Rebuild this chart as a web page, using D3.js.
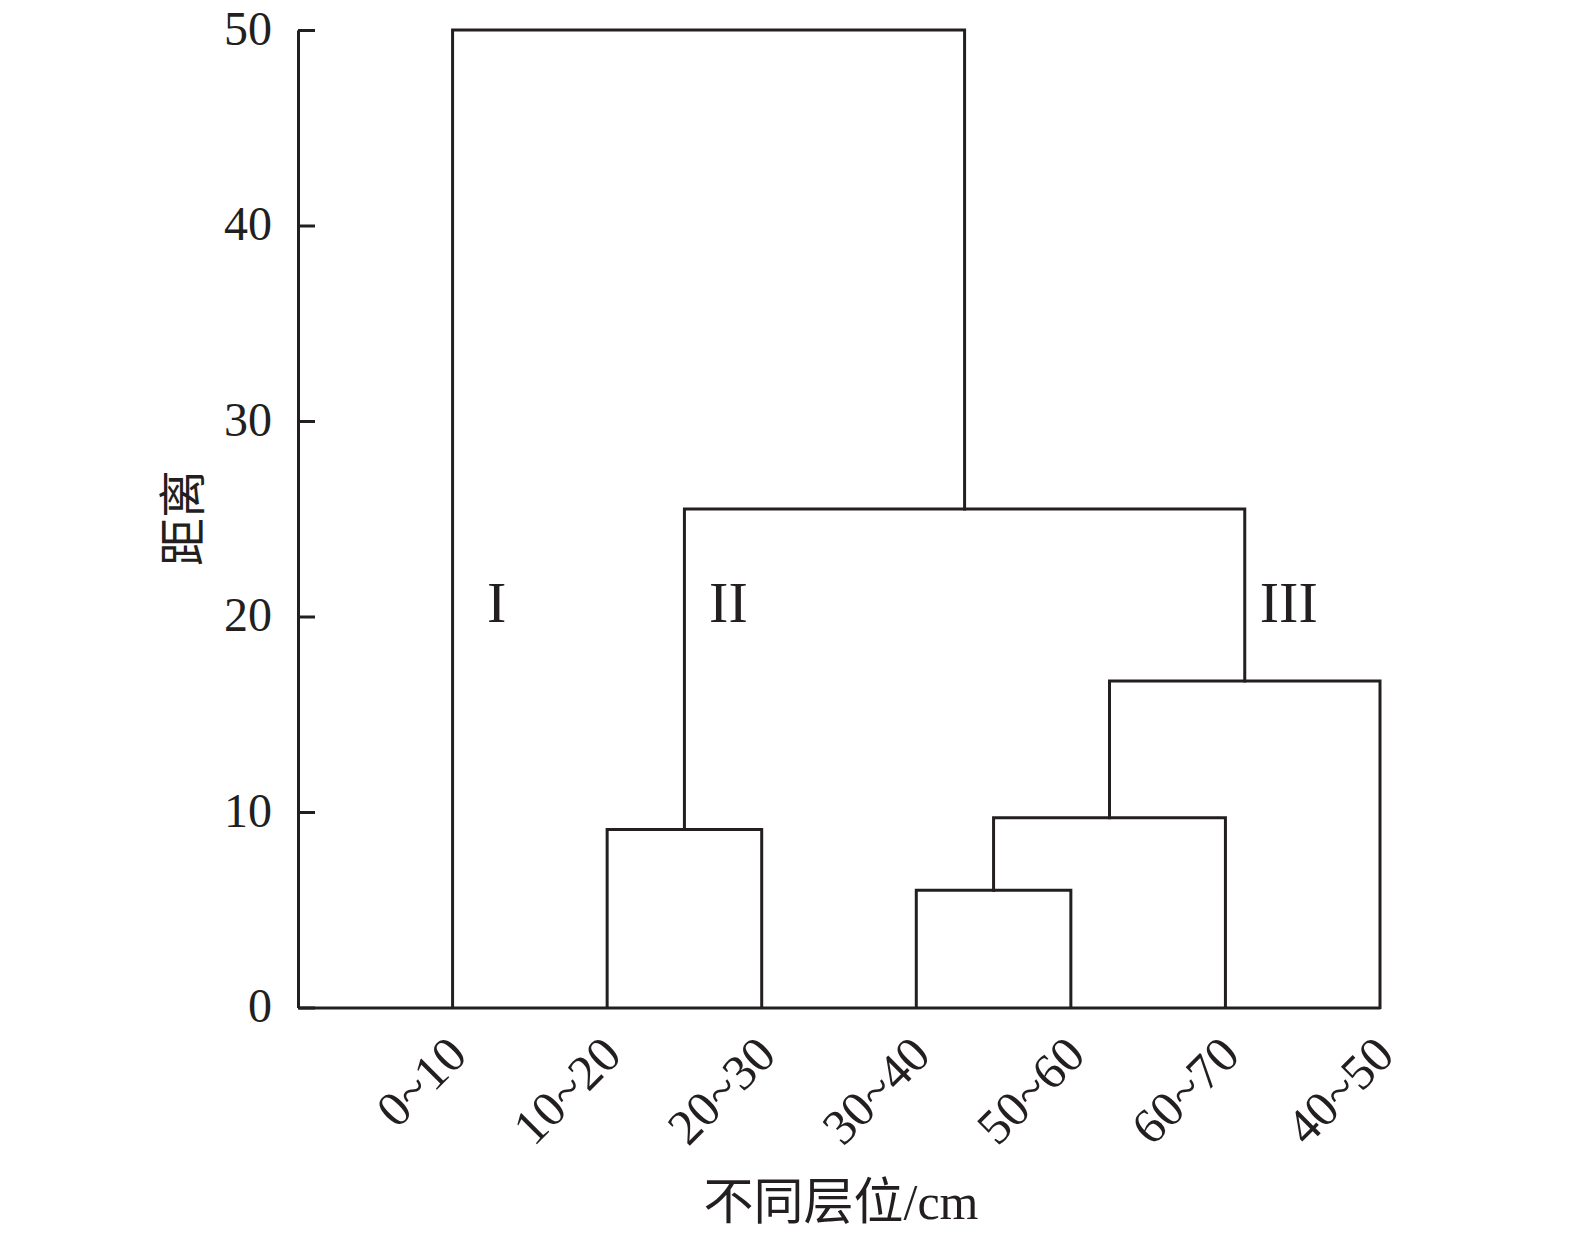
<!DOCTYPE html>
<html><head><meta charset="utf-8">
<script src="https://cdn.jsdelivr.net/npm/d3@7"></script>
<style>
html,body{margin:0;padding:0;background:#fff;}
svg{display:block;}
</style></head>
<body>
<svg id="chart" width="1575" height="1235"></svg>
<script>
// ---- data ----
const leaves = ["0~10","10~20","20~30","30~40","50~60","60~70","40~50"];
// linkage rows: [childA, childB, distance]; index >= leaves.length refers to an earlier merge
const linkage = [
  [3, 4, 6.0],
  [1, 2, 9.1],
  [7, 5, 9.7],
  [9, 6, 16.7],
  [8, 10, 25.5],
  [0, 11, 50.0]
];
const yTicks = [0, 10, 20, 30, 40, 50];
const clusterLabels = ["I", "II", "III"];
const clusterAnchors = [0, 8, 10]; // node each cluster label sits beside
const clusterLabelValue = 19.7;
const yLabel = "距离";
const xLabel = "不同层位/cm";

// ---- layout ----
const padL = 298, padR = 1380, padT = 30, padB = 1007.5;
const ink = "#231f20";
const serif = "'Liberation Serif','Times New Roman',serif";
const cjk = "'Liberation Serif','Noto Sans CJK SC',serif";

const svg = d3.select("#chart");
const x = d3.scaleLinear().domain([0, leaves.length]).range([padL, padR]);
const y = d3.scaleLinear().domain([0, 50]).range([padB, padT]);

// node positions
const n = leaves.length;
const nodes = leaves.map((d, i) => ({x: i + 1, h: 0}));
linkage.forEach(([a, b, h]) => {
  nodes.push({x: (nodes[a].x + nodes[b].x) / 2, h, a, b});
});

// y axis
const yAxis = svg.append("g")
  .attr("transform", `translate(${padL},0)`)
  .call(d3.axisLeft(y).tickValues(yTicks).tickSizeInner(-17).tickSizeOuter(0).tickPadding(26));
yAxis.select(".domain").attr("stroke", ink).attr("stroke-width", 3);
yAxis.selectAll(".tick line").attr("stroke", ink).attr("stroke-width", 3);
yAxis.selectAll(".tick text").attr("fill", ink).style("font-family", serif).style("font-size", "48px").attr("dy", "0.3em");

// x axis
const xAxis = svg.append("g")
  .attr("transform", `translate(0,${padB})`)
  .call(d3.axisBottom(x).tickValues(d3.range(1, n + 1)).tickFormat(i => leaves[i - 1]).tickSize(0).tickSizeOuter(0).tickPadding(0));
xAxis.select(".domain").attr("stroke", ink).attr("stroke-width", 3);
xAxis.selectAll(".tick text")
  .attr("fill", ink).style("font-family", serif).style("font-size", "50px")
  .attr("text-anchor", "end").attr("dy", null).attr("y", 0)
  .attr("transform", "translate(16,50) rotate(-45)");

// dendrogram links
const g = svg.append("g").attr("fill", "none").attr("stroke", ink).attr("stroke-width", 3).attr("stroke-linecap", "square");
nodes.slice(n).forEach(nd => {
  const A = nodes[nd.a], B = nodes[nd.b];
  g.append("path").attr("d",
    `M${x(A.x)},${y(A.h)}V${y(nd.h)}H${x(B.x)}V${y(B.h)}`);
});

// cluster labels
clusterLabels.forEach((t, i) => {
  const nd = nodes[clusterAnchors[i]];
  svg.append("text").attr("x", x(nd.x) + 44).attr("y", y(clusterLabelValue))
    .attr("text-anchor", "middle").attr("fill", ink)
    .style("font-family", serif).style("font-size", "58px").text(t);
});

// axis titles
svg.append("text").attr("transform", `translate(200,518) rotate(-90)`)
  .attr("text-anchor", "middle").attr("fill", ink)
  .style("font-family", cjk).style("font-size", "48px").text(yLabel);
svg.append("text").attr("x", (padL + padR) / 2 + 2).attr("y", 1219)
  .attr("text-anchor", "middle").attr("fill", ink)
  .style("font-family", cjk).style("font-size", "50px").text(xLabel);
</script>
</body></html>
